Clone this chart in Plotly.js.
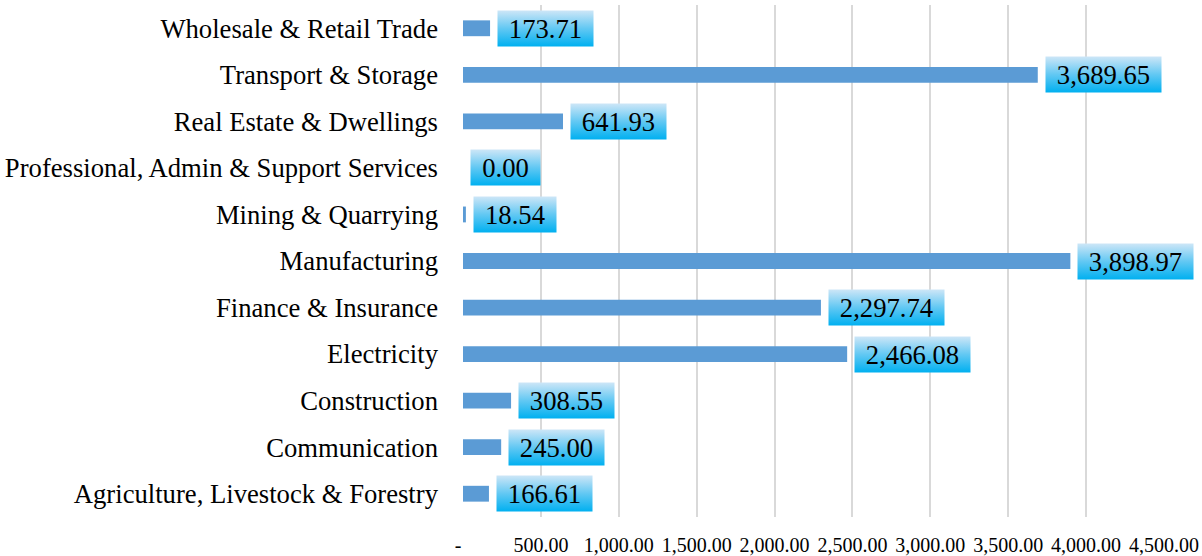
<!DOCTYPE html>
<html><head><meta charset="utf-8">
<script src="https://cdn.plot.ly/plotly-3.0.1.min.js"></script>
<style>html,body{margin:0;padding:0;background:#fff}</style></head><body>
<div id="chart" style="width:1202px;height:556px"></div>
<script>
const categories = [
  'Agriculture, Livestock & Forestry',
  'Communication',
  'Construction',
  'Electricity',
  'Finance & Insurance',
  'Manufacturing',
  'Mining & Quarrying',
  'Professional, Admin & Support Services',
  'Real Estate & Dwellings',
  'Transport & Storage',
  'Wholesale & Retail Trade'
];
const values = [166.61, 245.00, 308.55, 2466.08, 2297.74, 3898.97, 18.54, 0.00, 641.93, 3689.65, 173.71];
const valueLabels = ['166.61','245.00','308.55','2,466.08','2,297.74','3,898.97','18.54','0.00','641.93','3,689.65','173.71'];
const tickValues = [0, 500, 1000, 1500, 2000, 2500, 3000, 3500, 4000, 4500];
const tickLabels = ['-\u00a0\u00a0', '500.00', '1,000.00', '1,500.00', '2,000.00', '2,500.00', '3,000.00', '3,500.00', '4,000.00', '4,500.00'];

const FONT = '"Liberation Serif", "Times New Roman", serif';
const LABEL_SIZE = 26.67;
const cv = document.createElement('canvas').getContext('2d');
cv.font = LABEL_SIZE + "px 'Liberation Serif'";

const annotations = categories.map((c, i) => ({
  x: values[i], y: c, xref: 'x', yref: 'y',
  text: valueLabels[i], showarrow: false,
  xanchor: 'left', yanchor: 'middle', xshift: 7,
  width: Math.round(cv.measureText(valueLabels[i]).width + 22),
  height: 35, borderpad: 0,
  bgcolor: '#5EC7F3',
  font: {family: FONT, size: LABEL_SIZE, color: '#000'}
}));

const trace = {
  type: 'bar', orientation: 'h',
  x: values, y: categories,
  width: 0.34,
  marker: {color: '#5B9BD5', line: {width: 0}},
  hoverinfo: 'none'
};

const layout = {
  width: 1202, height: 556,
  margin: {l: 463, r: 38, t: 5, b: 39},
  paper_bgcolor: '#fff', plot_bgcolor: '#fff',
  showlegend: false,
  xaxis: {
    range: [0, 4500], tickvals: tickValues, ticktext: tickLabels,
    showgrid: true, gridcolor: '#D9D9D9', gridwidth: 2,
    zeroline: false, showline: false, ticks: '',
    ticklabelstandoff: 14,
    tickfont: {family: FONT, size: 20, color: '#000'}
  },
  yaxis: {
    type: 'category', categoryorder: 'array', categoryarray: categories,
    showgrid: false, zeroline: false, showline: false, ticks: '',
    ticklabelstandoff: 24,
    tickfont: {family: FONT, size: LABEL_SIZE, color: '#000'}
  },
  annotations: annotations
};

Plotly.newPlot('chart', [trace], layout, {staticPlot: true}).then(gd => {
  const svgs = gd.querySelectorAll('svg.main-svg');
  const svg = svgs[svgs.length - 1];
  const ns = 'http://www.w3.org/2000/svg';
  let defs = svg.querySelector('defs');
  if (!defs) { defs = document.createElementNS(ns, 'defs'); svg.insertBefore(defs, svg.firstChild); }
  const g = document.createElementNS(ns, 'linearGradient');
  g.setAttribute('id', 'lblgrad');
  g.setAttribute('x1', '0'); g.setAttribute('y1', '0');
  g.setAttribute('x2', '0'); g.setAttribute('y2', '1');
  [['0', '#CDE6F7'], ['0.5', '#62C8F3'], ['1', '#00B0F0']].forEach(([o, c]) => {
    const s = document.createElementNS(ns, 'stop');
    s.setAttribute('offset', o); s.setAttribute('stop-color', c);
    g.appendChild(s);
  });
  defs.appendChild(g);
  gd.querySelectorAll('.annotation rect.bg').forEach(r => { r.style.fill = 'url(#lblgrad)'; });
});
</script>
</body></html>
